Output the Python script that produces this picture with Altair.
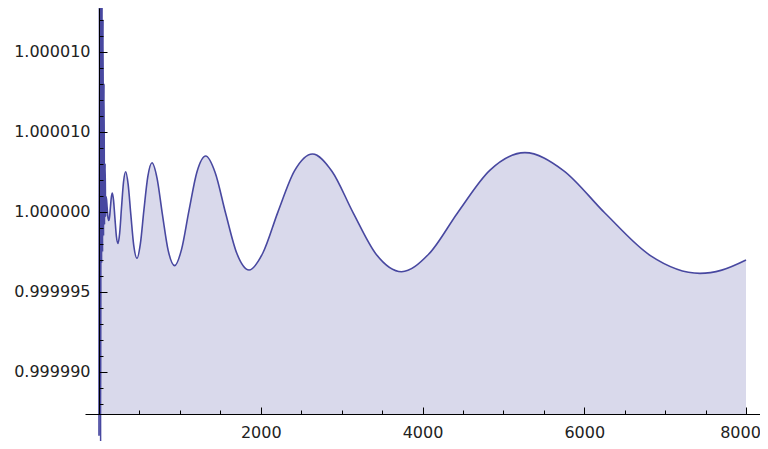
import altair as alt
import pandas as pd

# Curve (x, y)
x_vals = [0, 5, 10, 15, 20, 26, 32, 38, 44, 50, 56, 62, 68, 76, 82, 90, 100, 112, 122,
          131.5, 141.8, 152.9, 165, 180, 197, 215, 235, 256, 278.5, 303, 330,
          360.5, 394, 430, 470, 511, 555, 603.5, 656, 717, 784, 856, 936,
          1020, 1112, 1211, 1320, 1437, 1565, 1704, 1855, 2026, 2213, 2417, 2640,
          2880, 3143, 3429, 3741, 4075, 4439, 4835, 5266, 5739, 6255, 6818, 7431,
          7700, 8000]
y_vals = [0.999986, 1.000013, 0.9999967, 1.000013, 0.999984, 1.000013, 0.9999968,
          1.000013, 0.9999975, 1.000012, 0.9999985, 1.000008, 0.9999992, 1.000003,
          0.9999997, 1.00000094, 1.0000003, 0.9999996, 0.99999945,
          0.9999997, 1.00000031, 1.00000092, 1.00000117, 1.00000071, 0.9999996,
          0.99999848, 0.99999802, 0.99999868, 1.00000026, 1.00000184, 1.0000025,
          1.00000171, 0.9999998, 0.99999788, 0.99999709, 0.99999797, 1.00000008,
          1.00000219, 1.00000306, 1.00000212, 0.99999984, 0.99999757, 0.99999663,
          0.99999763, 1.00000005, 1.00000248, 1.00000348, 1.00000244, 0.99999992,
          0.9999974, 0.99999636, 0.99999742, 0.99999999, 1.00000255, 1.00000361,
          1.00000253, 0.99999993, 0.99999733, 0.99999625, 0.99999734, 0.99999997,
          1.0000026, 1.00000369, 1.00000259, 0.99999992, 0.99999726, 0.99999615,
          0.99999635, 0.99999698]

# Axis ticks
y_major = [0.99999, 0.999995, 1.0, 1.000005, 1.00001]
y_minor = [0.999988, 0.999989, 0.999991, 0.999992, 0.999993, 0.999994,
           0.999996, 0.999997, 0.999998, 0.999999, 1.000001, 1.000002,
           1.000003, 1.000004, 1.000006, 1.000007, 1.000008, 1.000009,
           1.000011, 1.000012]
x_major = [2000, 4000, 6000, 8000]
x_minor = [500, 1000, 1500, 2500, 3000, 3500, 4500, 5000, 5500, 6500, 7000, 7500]

X_DOMAIN = [-173, 8173]
Y_DOMAIN = [0.99998736, 1.00001273]
Y_AXIS_SHIFT = -14  # y axis sits at x = 0, inside the plot's left edge

df = pd.DataFrame({"x": x_vals, "y": y_vals})

xs = alt.Scale(domain=X_DOMAIN, nice=False, zero=False)
ys = alt.Scale(domain=Y_DOMAIN, nice=False, zero=False)

common = dict(grid=False, labelFont="DejaVu Sans", labelFontSize=16,
              labelColor="#222222", tickColor="black", domainColor="black",
              tickWidth=1, zindex=2)

x_axis_major = alt.Axis(values=x_major, format="d", orient="bottom",
                        tickSize={"expr": "-7"}, labelPadding=17,
                        labelOffset={"condition": {"test": "datum.value == 8000", "value": -6},
                                     "value": 0},
                        domain=True, domainWidth=1, labelFlush=False,
                        labelOverlap=False, **common)
y_axis_major = alt.Axis(values=y_major, orient="left", offset=Y_AXIS_SHIFT,
                        labelExpr="datum.value > 1.0000025 ? '1.000010' : format(datum.value, '.6f')",
                        tickSize={"expr": "-8"}, labelPadding=17,
                        domain=True, domainWidth=1, labelFlush=False,
                        labelOverlap=False, **common)
x_axis_minor = alt.Axis(values=x_minor, orient="bottom", labels=False,
                        domain=False, tickSize={"expr": "-4"}, **common)
y_axis_minor = alt.Axis(values=y_minor, orient="left", offset=Y_AXIS_SHIFT,
                        labels=False, domain=False, tickSize={"expr": "-4"},
                        **common)

base = alt.Chart(df)

area = base.mark_area(color="#d9d9eb", interpolate="monotone", clip=True).encode(
    x=alt.X("x:Q", scale=xs, axis=x_axis_major, title=None),
    y=alt.Y("y:Q", scale=ys, axis=y_axis_major, title=None),
    y2=alt.datum(Y_DOMAIN[0]),
)

line = base.mark_line(color="#4848a0", strokeWidth=1.6, interpolate="monotone",
                      clip=False).encode(
    x=alt.X("x:Q", scale=xs, axis=None),
    y=alt.Y("y:Q", scale=ys, axis=None),
)

minor = base.mark_line(opacity=0, clip=True).encode(
    x=alt.X("x:Q", scale=xs, axis=x_axis_minor, title=None),
    y=alt.Y("y:Q", scale=ys, axis=y_axis_minor, title=None),
)

chart = alt.layer(area, line, minor).resolve_axis(
    x="independent", y="independent"
).properties(
    width=675,
    height=406,
    padding={"left": 77, "top": 0, "right": 0, "bottom": 27},
    autosize=alt.AutoSizeParams(type="none"),
).configure_view(stroke="transparent")

chart.save("out.html", embed_options={"renderer": "svg", "actions": False})
